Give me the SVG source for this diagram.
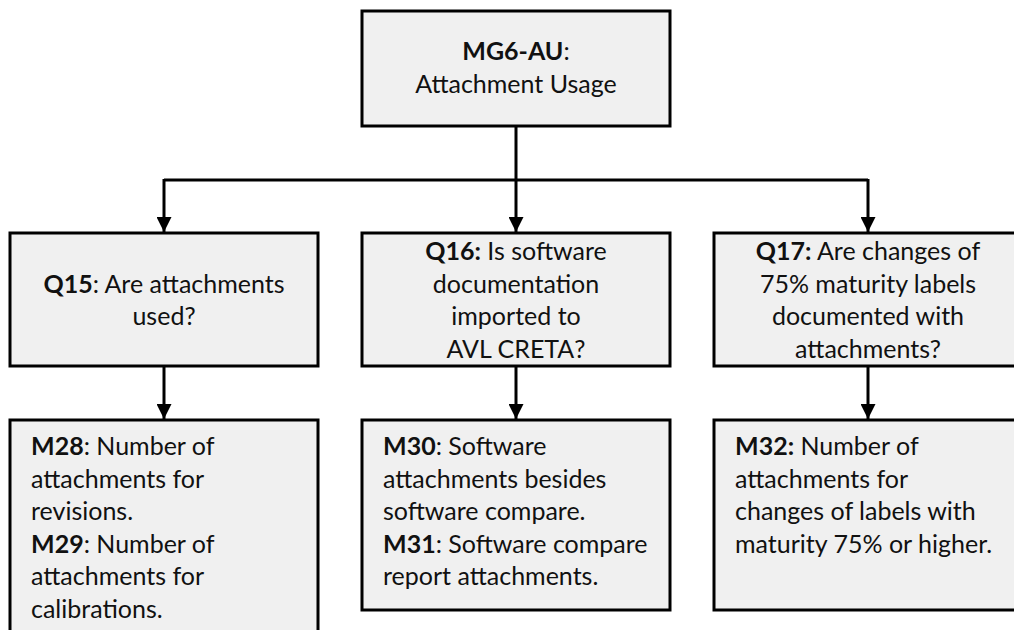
<svg xmlns="http://www.w3.org/2000/svg" width="1014" height="630" viewBox="0 0 1014 630">
  <style>
    .box { fill: #f0f0f0; stroke: #000; stroke-width: 3; }
    .wire { fill: none; stroke: #000; stroke-width: 3; }
    text { font-family: Lato, "Liberation Sans", sans-serif; font-size: 25px; fill: #111; }
    .c { text-anchor: middle; }
    .b { font-weight: bold; }
  </style>
  <defs>
    <marker id="arrow" viewBox="0 0 10 10" refX="10" refY="5" markerWidth="5" markerHeight="5" markerUnits="strokeWidth" orient="auto">
      <path d="M0,0 L10,5 L0,10 Z" fill="#000"/>
    </marker>
  </defs>

  <!-- connectors -->
  <g id="connectors">
    <path class="wire" d="M516,126 V180 M164,180 H868"/>
    <path class="wire" d="M164,179 V232" marker-end="url(#arrow)"/>
    <path class="wire" d="M516,180 V232" marker-end="url(#arrow)"/>
    <path class="wire" d="M868,179 V232" marker-end="url(#arrow)"/>
    <path class="wire" d="M164,366 V419" marker-end="url(#arrow)"/>
    <path class="wire" d="M516,366 V419" marker-end="url(#arrow)"/>
    <path class="wire" d="M868,366 V419" marker-end="url(#arrow)"/>
  </g>

  <!-- goal -->
  <g id="mg6">
    <rect class="box" x="362" y="11" width="308" height="115"/>
    <text class="c" x="516" y="60"><tspan class="b">MG6-AU</tspan>:</text>
    <text class="c" x="516" y="93">Attachment Usage</text>
  </g>

  <!-- questions -->
  <g id="q15">
    <rect class="box" x="10" y="233" width="308" height="133"/>
    <text class="c" x="164" y="293"><tspan class="b">Q15</tspan>: Are attachments</text>
    <text class="c" x="164" y="325">used?</text>
  </g>
  <g id="q16">
    <rect class="box" x="362" y="233" width="308" height="133"/>
    <text class="c" x="516" y="260"><tspan class="b">Q16:</tspan> Is software</text>
    <text class="c" x="516" y="293">documentation</text>
    <text class="c" x="516" y="325">imported to</text>
    <text class="c" x="516" y="358">AVL CRETA?</text>
  </g>
  <g id="q17">
    <rect class="box" x="714" y="233" width="310" height="133"/>
    <text class="c" x="868" y="260"><tspan class="b">Q17:</tspan> Are changes of</text>
    <text class="c" x="868" y="293">75% maturity labels</text>
    <text class="c" x="868" y="325">documented with</text>
    <text class="c" x="868" y="358">attachments?</text>
  </g>

  <!-- metrics -->
  <g id="m28-m29">
    <rect class="box" x="10" y="420" width="308" height="220"/>
    <text x="31" y="455"><tspan class="b">M28</tspan>: Number of</text>
    <text x="31" y="488">attachments for</text>
    <text x="31" y="520">revisions.</text>
    <text x="31" y="553"><tspan class="b">M29</tspan>: Number of</text>
    <text x="31" y="585">attachments for</text>
    <text x="31" y="618">calibrations.</text>
  </g>
  <g id="m30-m31">
    <rect class="box" x="362" y="420" width="308" height="190"/>
    <text x="383" y="455"><tspan class="b">M30</tspan>: Software</text>
    <text x="383" y="488">attachments besides</text>
    <text x="383" y="520">software compare.</text>
    <text x="383" y="553"><tspan class="b">M31</tspan>: Software compare</text>
    <text x="383" y="585">report attachments.</text>
  </g>
  <g id="m32">
    <rect class="box" x="714" y="420" width="310" height="190"/>
    <text x="735" y="455"><tspan class="b">M32:</tspan> Number of</text>
    <text x="735" y="488">attachments for</text>
    <text x="735" y="520">changes of labels with</text>
    <text x="735" y="553">maturity 75% or higher.</text>
  </g>
</svg>
